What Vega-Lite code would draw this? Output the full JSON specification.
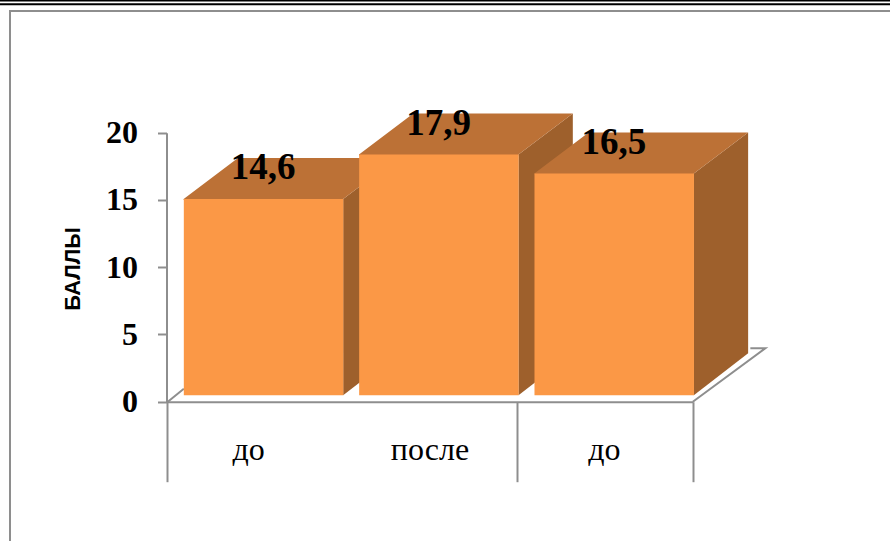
{
"$schema":"https://vega.github.io/schema/vega-lite/v6.json",
"autosize":{"type":"none"},
"padding":{"left":10,"top":11,"right":-5,"bottom":-5},
"width":885,"height":535,
"background":"white",
"view":{"stroke":"#8e8e8e","strokeWidth":2,"fill":"white"},
"data":{"values":[
{"id":"до 1","value":14.6,"text":"14,6"},
{"id":"после","value":17.9,"text":"17,9"},
{"id":"до 2","value":16.5,"text":"16,5"}
]},
"encoding":{
"x":{"field":"id","type":"nominal","sort":null,"title":null,
"scale":{"domain":["до 1","после","до 2"],"range":[156.5,682.5],"paddingInner":0,"paddingOuter":0},
"axis":{"offset":-144.3,"tickBand":"extent","tickSize":80,"tickWidth":2,"tickColor":"#8e8e8e","tickOpacity":{"condition":{"test":"datum.value=='до 1'","value":0},"value":1},"domainColor":"#8e8e8e","domainWidth":2,"labelExpr":"split(datum.label,' ')[0]","labelAngle":0,"labelFont":"Liberation Serif","labelFontSize":32,"labelColor":"black","labelBaseline":"alphabetic","labelPadding":-22.7,"labelOffset":{"expr":"datum.value=='до 1'?-6:(datum.value=='до 2'?-1:0)"},"labelOverlap":false,"labelFlush":false,"grid":false}},
"y":{"field":"value","type":"quantitative",
"scale":{"domain":[0,20],"range":[390.7,121.7],"nice":false},
"axis":{"title":"БАЛЛЫ","titleFont":"Liberation Sans","titleFontSize":22,"titleFontWeight":"bold","titleColor":"black","titleAngle":270,"titleBaseline":"alphabetic","titleAlign":"center","titleX":-87.5,"titleY":257.5,"offset":-156.5,"values":[0,5,10,15,20],"tickSize":9,"tickWidth":2,"tickColor":"#8e8e8e","domainColor":"#8e8e8e","domainWidth":2,"labelFont":"Liberation Serif","labelFontWeight":"bold","labelFontSize":32,"labelColor":"black","labelPadding":20,"grid":false}}
},
"layer":[
{"transform":[{"filter":"datum.id=='до 2'"}],
"mark":{"type":"point","filled":false,"opacity":1,"size":4,"fill":"transparent","stroke":"#8e8e8e","strokeWidth":2,"shape":"M-437,0L-421,-13L-437,0ZM88,0L160.5,-53.5L145.5,-53.5L160.5,-53.5Z"},
"encoding":{"y":{"datum":0}}},
{"mark":{"type":"point","filled":true,"opacity":1,"size":4,"color":"#9E602C"},
"encoding":{"shape":{"field":"id","type":"nominal","legend":null,"scale":{"domain":["до 1","после","до 2"],"range":[
"M89,-6.4L143.3,-47.4L143.3,148L89,190Z",
"M89,-6.4L143.3,-47.4L143.3,192.4L89,234.4Z",
"M89,-6.4L143.3,-47.4L143.3,173.5L89,215.5Z"]}}}},
{"mark":{"type":"point","filled":true,"opacity":1,"size":4,"color":"#BC7136","shape":"M-70.5,-5.4L89,-5.4L89,-6.4L143.3,-47.4L-16.2,-47.4L-70.5,-6.4Z"}},
{"mark":{"type":"bar","color":"#FB9846","width":159.5,"xOffset":9.4,"yOffset":-6.4,"y2Offset":-6.4}},
{"mark":{"type":"text","font":"Liberation Serif","fontWeight":"bold","fontSize":37,"color":"black","align":"center","baseline":"alphabetic","xOffset":9,"yOffset":-26},
"encoding":{"text":{"field":"text","type":"nominal"}}},
{"data":{"values":[{"line":29.83},{"line":29.55}]},
"mark":{"type":"rule","color":"black","strokeWidth":2},
"encoding":{"x":{"value":-10},"x2":{"value":885},"y":{"field":"line","type":"quantitative"}}}
]
}
